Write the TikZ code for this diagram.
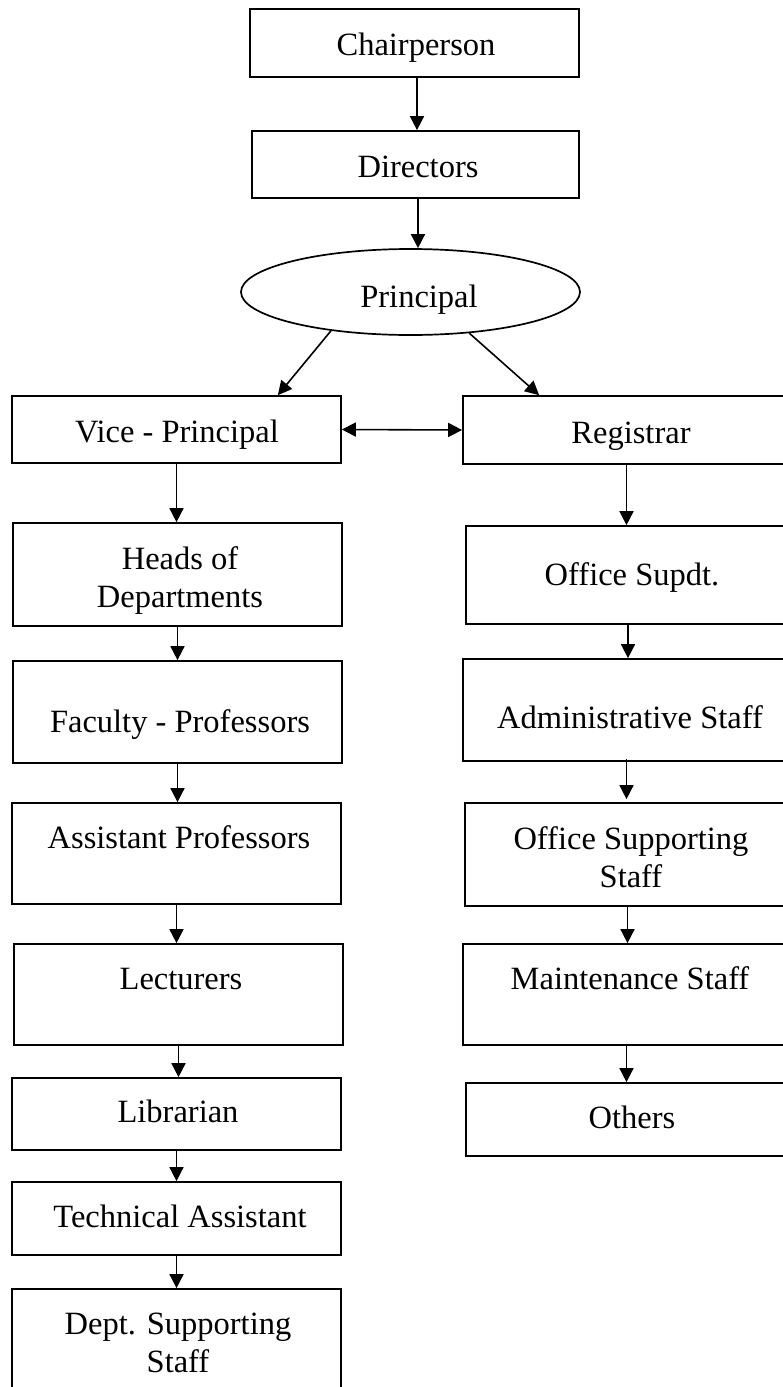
\documentclass[tikz,border=0pt]{standalone}
\usepackage{fontspec}
\setmainfont{Liberation Serif}
\usetikzlibrary{arrows.meta,shapes.geometric,calc}
\tikzset{
  x=1pt, y=-1pt,
  box/.style={draw, line width=1.7pt, inner sep=0pt, rectangle},
  lbl/.style={inner sep=0pt, font=\fontsize{32.5}{38}\selectfont, align=center},
  arr/.style={line width=1.6pt, -{Triangle[length=14pt,width=14pt]}},
  darr/.style={line width=1.6pt, {Triangle[length=14pt,width=14pt]}-{Triangle[length=14pt,width=14pt]}},
}
\newcommand{\orgbox}[5]{%
  \node[box, minimum width=#4pt-#2pt, minimum height=#5pt-#3pt]
    (#1) at ({(#2+#4)/2},{(#3+#5)/2}) {};}
\begin{document}
\begin{tikzpicture}
\useasboundingbox (0,0) rectangle (783,1387);
\clip (0,0) rectangle (783,1387);
% top
\orgbox{chair}{250}{9}{579}{77}
\orgbox{dir}{252}{131}{579}{198}
\node[draw, ellipse, line width=1.7pt, inner sep=0pt, minimum width=339pt, minimum height=86pt] (pr) at (410.5,292) {};
% left column
\orgbox{vp}{12}{396}{341}{463}
\orgbox{hod}{13}{523}{342}{626}
\orgbox{fac}{13}{661}{342}{763}
\orgbox{ap}{12}{803}{341}{904}
\orgbox{lec}{14}{944}{343}{1045}
\orgbox{lib}{12}{1078}{341}{1150}
\orgbox{tech}{12}{1182}{341}{1255}
\orgbox{dss}{12}{1289}{341}{1410}
% right column
\orgbox{reg}{463}{396}{790}{464}
\orgbox{osd}{466}{526}{790}{624}
\orgbox{adm}{463}{659}{790}{761}
\orgbox{osup}{465}{803}{790}{906}
\orgbox{mnt}{463}{944}{790}{1045}
\orgbox{oth}{466}{1083}{790}{1156}
% texts
\node[lbl, anchor=base] (t-chair) at (416,55) {Chairperson};
\node[lbl, anchor=base] (t-dir) at (418,177) {Directors};
\node[lbl, anchor=base] (t-pr) at (419,307) {Principal};
\node[lbl, anchor=base] (t-vp) at (177,442) {Vice - Principal};
\node[lbl, anchor=base] (t-reg) at (631,443) {Registrar};
\node[lbl, anchor=base] (t-hod) at (180,607) {Heads of\\Departments};
\node[lbl, anchor=base] (t-osd) at (632,585) {Office Supdt.};
\node[lbl, anchor=base] (t-fac) at (180,732) {Faculty - Professors};
\node[lbl, anchor=base] (t-adm) at (630,728) {Administrative Staff};
\node[lbl, anchor=base] (t-ap) at (179,848) {Assistant Professors};
\node[lbl, anchor=base] (t-osup) at (631,887) {Office Supporting\\Staff};
\node[lbl, anchor=base] (t-lec) at (181,989) {Lecturers};
\node[lbl, anchor=base] (t-mnt) at (630,989) {Maintenance Staff};
\node[lbl, anchor=base] (t-lib) at (178,1122) {Librarian};
\node[lbl, anchor=base] (t-oth) at (632,1128) {Others};
\node[lbl, anchor=base] (t-tech) at (180,1227) {Technical Assistant};
\node[lbl, anchor=base] (t-dss) at (178,1372) {Dept. Supporting\\Staff};
% connectors
\draw[arr] ([xshift=2.5pt]chair.south) -- ([xshift=2.5pt]chair.south |- dir.north);
\draw[arr] ([xshift=2.5pt]dir.south) -- ([xshift=2.5pt]dir.south |- pr.north);
\draw[arr] (pr.206) -- ([xshift=-64pt]vp.north east);
\draw[arr] (pr.-35) -- ([xshift=77pt]reg.north west);
\draw[darr] (vp.east) -- (reg.west);
\draw[arr] (vp.south) -- (vp.south |- hod.north);
\draw[arr] (hod.south) -- (hod.south |- fac.north);
\draw[arr] (fac.south) -- (fac.south |- ap.north);
\draw[arr] (ap.south) -- (ap.south |- lec.north);
\draw[arr] (lec.south) -- (lec.south |- lib.north);
\draw[arr] (lib.south) -- (lib.south |- tech.north);
\draw[arr] (tech.south) -- (tech.south |- dss.north);
\draw[arr] (reg.south) -- (reg.south |- osd.north);
\draw[arr] (osd.south) -- (osd.south |- adm.north);
\draw[arr] ([yshift=3pt]adm.south) -- ([yshift=3pt]adm.south |- osup.north);
\draw[arr] ([yshift=2pt]osup.south) -- (osup.south |- mnt.north);
\draw[arr] (mnt.south) -- (mnt.south |- oth.north);
\end{tikzpicture}
\end{document}
